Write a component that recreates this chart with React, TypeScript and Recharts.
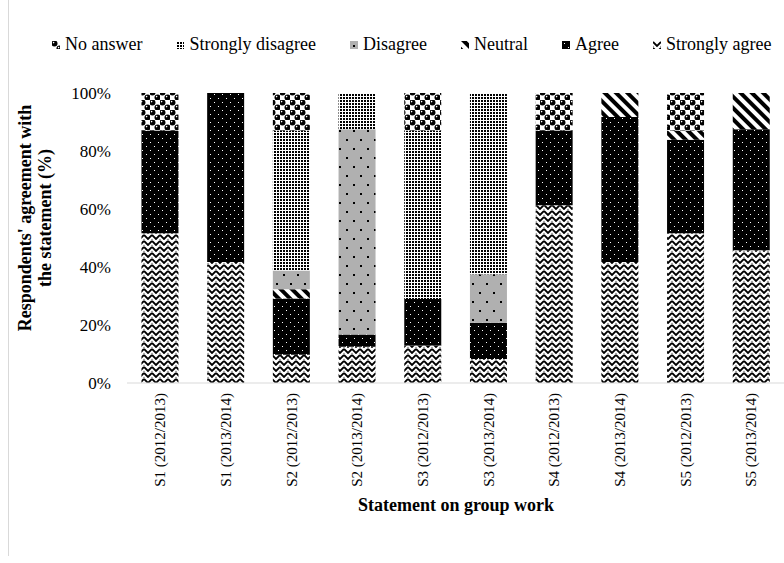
import { BarChart, Bar, XAxis, YAxis } from 'recharts'

const FONT = '"Liberation Serif", "Times New Roman", serif'

// statements, two survey years each
const statements = [
  'S1 (2012/2013)',
  'S1 (2013/2014)',
  'S2 (2012/2013)',
  'S2 (2013/2014)',
  'S3 (2012/2013)',
  'S3 (2013/2014)',
  'S4 (2012/2013)',
  'S4 (2013/2014)',
  'S5 (2012/2013)',
  'S5 (2013/2014)',
]

// share of respondents (%) per answer
const stronglyAgree = [51.6, 41.7, 9.7, 12.5, 12.9, 8.3, 61.3, 41.7, 51.6, 45.8]
const agree = [35.5, 58.3, 19.4, 4.2, 16.1, 12.5, 25.8, 50.0, 32.3, 41.7]
const neutral = [0, 0, 3.2, 0, 0, 0, 0, 8.3, 3.2, 12.5]
const disagree = [0, 0, 6.5, 70.8, 0, 16.7, 0, 0, 0, 0]
const stronglyDisagree = [0, 0, 48.3, 12.5, 58.1, 62.5, 0, 0, 0, 0]
const noAnswer = [12.9, 0, 12.9, 0, 12.9, 0, 12.9, 0, 12.9, 0]

const yTicks = [0, 20, 40, 60, 80, 100]

// bottom-to-top stacking order
const series = [
  { key: 'stronglyAgree', name: 'Strongly agree', values: stronglyAgree, fill: 'url(#pat-sa)' },
  { key: 'agree', name: 'Agree', values: agree, fill: 'url(#pat-a)' },
  { key: 'neutral', name: 'Neutral', values: neutral, fill: 'url(#pat-n)' },
  { key: 'disagree', name: 'Disagree', values: disagree, fill: 'url(#pat-d)' },
  { key: 'stronglyDisagree', name: 'Strongly disagree', values: stronglyDisagree, fill: 'url(#pat-sd)' },
  { key: 'noAnswer', name: 'No answer', values: noAnswer, fill: 'url(#pat-na)' },
]

const data = statements.map((statement, i) => {
  const row: Record<string, string | number> = { statement }
  series.forEach((s) => {
    row[s.key] = s.values[i]
  })
  return row
})

// eslint-disable-next-line @typescript-eslint/no-explicit-any
const StatementTick = ({ x, y, payload }: any) => (
  <text
    x={x}
    y={y}
    dy="0.35em"
    transform={`rotate(-90, ${x}, ${y})`}
    textAnchor="end"
    style={{ fontSize: 15, fontFamily: FONT }}
    fill="#000"
  >
    {payload.value}
  </text>
)

// eslint-disable-next-line @typescript-eslint/no-explicit-any
const PercentTick = ({ x, y, payload }: any) => (
  <text x={x} y={y} dy="0.35em" textAnchor="end" style={{ fontSize: 17, fontFamily: FONT }} fill="#000">
    {`${payload.value}%`}
  </text>
)

const Patterns = () => (
  <defs>
    <pattern id="pat-sa" width="8" height="6" patternUnits="userSpaceOnUse">
      <rect width="8" height="6" fill="#fff" />
      <path d="M0,1 L4,5 L8,1" stroke="#000" strokeWidth="1.8" fill="none" />
      <path d="M-1,5 L0,6 M8,6 L9,5" stroke="#000" strokeWidth="1.8" fill="none" />
    </pattern>
    <pattern id="pat-a" width="8" height="8" patternUnits="userSpaceOnUse">
      <rect width="8" height="8" fill="#000" />
      <rect x="2" y="2" width="1" height="1" fill="#fff" />
      <rect x="6" y="6" width="1" height="1" fill="#fff" />
    </pattern>
    <pattern id="pat-n" width="8" height="8" patternUnits="userSpaceOnUse" patternTransform="rotate(-45)">
      <rect width="8" height="8" fill="#fff" />
      <rect width="4" height="8" fill="#000" />
    </pattern>
    <pattern id="pat-d" width="14" height="18" patternUnits="userSpaceOnUse">
      <rect width="14" height="18" fill="#b0b0b0" />
      <rect x="3" y="4" width="2" height="2" fill="#000" />
      <rect x="10" y="13" width="2" height="2" fill="#000" />
    </pattern>
    <pattern id="pat-sd" width="3" height="3" patternUnits="userSpaceOnUse">
      <rect width="3" height="3" fill="#fff" />
      <rect x="1" y="1" width="2" height="2" fill="#000" />
    </pattern>
    <pattern id="pat-na" width="10" height="10" patternUnits="userSpaceOnUse">
      <rect width="10" height="10" fill="#fff" />
      <circle cx="2.5" cy="2.5" r="3" fill="#000" />
      <circle cx="7.5" cy="7.5" r="3" fill="#000" />
      <circle cx="1.6" cy="1.6" r="0.8" fill="#fff" />
      <circle cx="6.6" cy="6.6" r="0.8" fill="#fff" />
    </pattern>
  </defs>
)

export default function App() {
  const legendItems = [...series].reverse()
  return (
    <div
      style={{
        position: 'absolute',
        left: 0,
        top: 0,
        width: 784,
        height: 563,
        background: '#fff',
        fontFamily: FONT,
        overflow: 'hidden',
      }}
    >
      <svg width={784} height={563} style={{ position: 'absolute', left: 0, top: 0 }}>
        <Patterns />
        <line x1={8.5} y1={0} x2={8.5} y2={556} stroke="#d9d9d9" />
        <text
          transform="rotate(-90, 25, 218)"
          x={25}
          y={218}
          dy="0.35em"
          textAnchor="middle"
          fontSize={18}
          fontWeight="bold"
          fill="#000"
        >
          Respondents' agreement with
        </text>
        <text
          transform="rotate(-90, 45, 218)"
          x={45}
          y={218}
          dy="0.35em"
          textAnchor="middle"
          fontSize={18}
          fontWeight="bold"
          fill="#000"
        >
          the statement (%)
        </text>
        <text x={456} y={505} dy="0.35em" textAnchor="middle" fontSize={18} fontWeight="bold" fill="#000">
          Statement on group work
        </text>
      </svg>

      <div style={{ position: 'absolute', left: 0, top: 0 }}>
        <BarChart
          width={784}
          height={563}
          data={data}
          margin={{ top: 93, right: 0, bottom: 60, left: 0 }}
          barCategoryGap="22%"
        >
          <XAxis
            dataKey="statement"
            height={120}
            interval={0}
            axisLine={{ stroke: '#d9d9d9' }}
            tickLine={false}
            tickSize={6}
            tickMargin={4}
            tick={StatementTick}
          />
          <YAxis
            width={127}
            domain={[0, 100]}
            ticks={yTicks}
            axisLine={false}
            tickLine={false}
            tickSize={6}
            tickMargin={10}
            tick={PercentTick}
          />
          {series.map((s) => (
            <Bar
              key={s.key}
              dataKey={s.key}
              name={s.name}
              stackId="answers"
              fill={s.fill}
              isAnimationActive={false}
            />
          ))}
        </BarChart>
      </div>

      <div
        style={{
          position: 'absolute',
          left: 52,
          top: 34,
          display: 'flex',
          alignItems: 'center',
          gap: 34,
          fontSize: 18,
          color: '#000',
          whiteSpace: 'nowrap',
        }}
      >
        {legendItems.map((s) => (
          <div key={s.key} style={{ display: 'flex', alignItems: 'center' }}>
            <svg width={8} height={8} style={{ marginRight: 5 }}>
              <rect width={8} height={8} fill={s.fill} />
            </svg>
            <span>{s.name}</span>
          </div>
        ))}
      </div>
    </div>
  )
}
